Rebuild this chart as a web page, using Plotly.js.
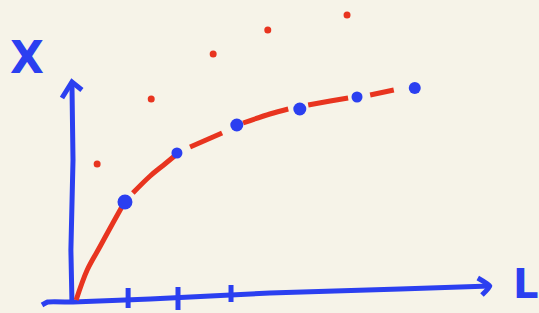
<!DOCTYPE html>
<html>
<head>
<meta charset="utf-8">
<script src="https://cdn.plot.ly/plotly-3.0.1.min.js"></script>
<style>html,body{margin:0;padding:0;background:#f6f3e8;}</style>
</head>
<body>
<div id="chart" style="width:539px;height:313px;"></div>
<script>
// Measured points (L on horizontal axis, X on vertical axis)
const blueL = [0.99, 1.98, 3.12, 4.32, 5.41, 6.51];
const blueX = [1.96, 2.94, 3.50, 3.82, 4.06, 4.24];
const blueSize = [15, 11, 13, 13, 11, 12];

const redDotL = [0.46, 1.49, 2.67, 3.71, 5.22];
const redDotX = [2.72, 4.02, 4.92, 5.40, 5.70];

// Hand-drawn red curve, segments separated by null gaps
const curveL = [0.06, 0.27, 0.51, 0.76, 0.93, null,
                1.14, 1.47, 1.75, 1.98, null,
                2.23, 2.84, null,
                3.24, 3.75, 4.10, null,
                4.48, 4.90, 5.24, null,
                5.66, 6.11];
const curveX = [0.00, 0.60, 1.06, 1.54, 1.86, null,
                2.14, 2.48, 2.72, 2.92, null,
                3.06, 3.34, null,
                3.54, 3.72, 3.82, null,
                3.90, 3.98, 4.04, null,
                4.10, 4.20];

// Sketched axes (with arrow heads) and tick marks
const xAxisL = [-0.59, -0.48, 0.0, 1.47, 3.75, 6.23, 7.94, null, 7.71, 7.94, 7.79];
const xAxisX = [-0.10, -0.04, -0.04, 0.02, 0.14, 0.22, 0.28, null, 0.44, 0.28, 0.10];
const yAxisL = [-0.02, -0.04, 0.0, -0.02, null, -0.21, -0.02, 0.17];
const yAxisX = [-0.04, 1.00, 2.80, 4.32, null, 4.04, 4.36, 4.20];
const tickL = [1.05, 1.05, null, 2.00, 2.00, null, 3.01, 3.01];
const tickX = [0.24, -0.16, null, 0.26, -0.20, null, 0.30, -0.04];

const axisLabelX = "X";
const axisLabelL = "L";

const BLUE = "#2b3ff0";
const RED = "#e8341f";

const traces = [
  {x: xAxisL, y: xAxisX, mode: "lines", line: {color: BLUE, width: 5, shape: "spline", smoothing: 0.4}, connectgaps: false, hoverinfo: "skip"},
  {x: yAxisL, y: yAxisX, mode: "lines", line: {color: BLUE, width: 5}, connectgaps: false, hoverinfo: "skip"},
  {x: tickL, y: tickX, mode: "lines", line: {color: BLUE, width: 5}, connectgaps: false, hoverinfo: "skip"},
  {x: curveL, y: curveX, mode: "lines", line: {color: RED, width: 5, shape: "spline"}, connectgaps: false},
  {x: redDotL, y: redDotX, mode: "markers", marker: {color: RED, size: 7, opacity: 1}},
  {x: blueL, y: blueX, mode: "markers", marker: {color: BLUE, size: blueSize, opacity: 1, line: {width: 0}}}
];

const layout = {
  width: 539, height: 313,
  margin: {l: 0, r: 0, t: 0, b: 0},
  paper_bgcolor: "#f6f3e8",
  plot_bgcolor: "#f6f3e8",
  showlegend: false,
  xaxis: {range: [-73/52.5, 466/52.5], visible: false, fixedrange: true},
  yaxis: {range: [-13/50, 300/50], visible: false, fixedrange: true},
  annotations: [
    {text: "<b>" + axisLabelX + "</b>", xref: "paper", yref: "paper", x: 0.050, y: 0.815, showarrow: false,
     font: {family: "DejaVu Sans", size: 44, color: BLUE}, xanchor: "center", yanchor: "middle"},
    {text: "<b>" + axisLabelL + "</b>", xref: "paper", yref: "paper", x: 0.948, y: 0.092, showarrow: false,
     font: {family: "DejaVu Sans", size: 40, color: BLUE}, xanchor: "left", yanchor: "middle"}
  ]
};

Plotly.newPlot("chart", traces, layout, {displayModeBar: false, staticPlot: true});
</script>
</body>
</html>
